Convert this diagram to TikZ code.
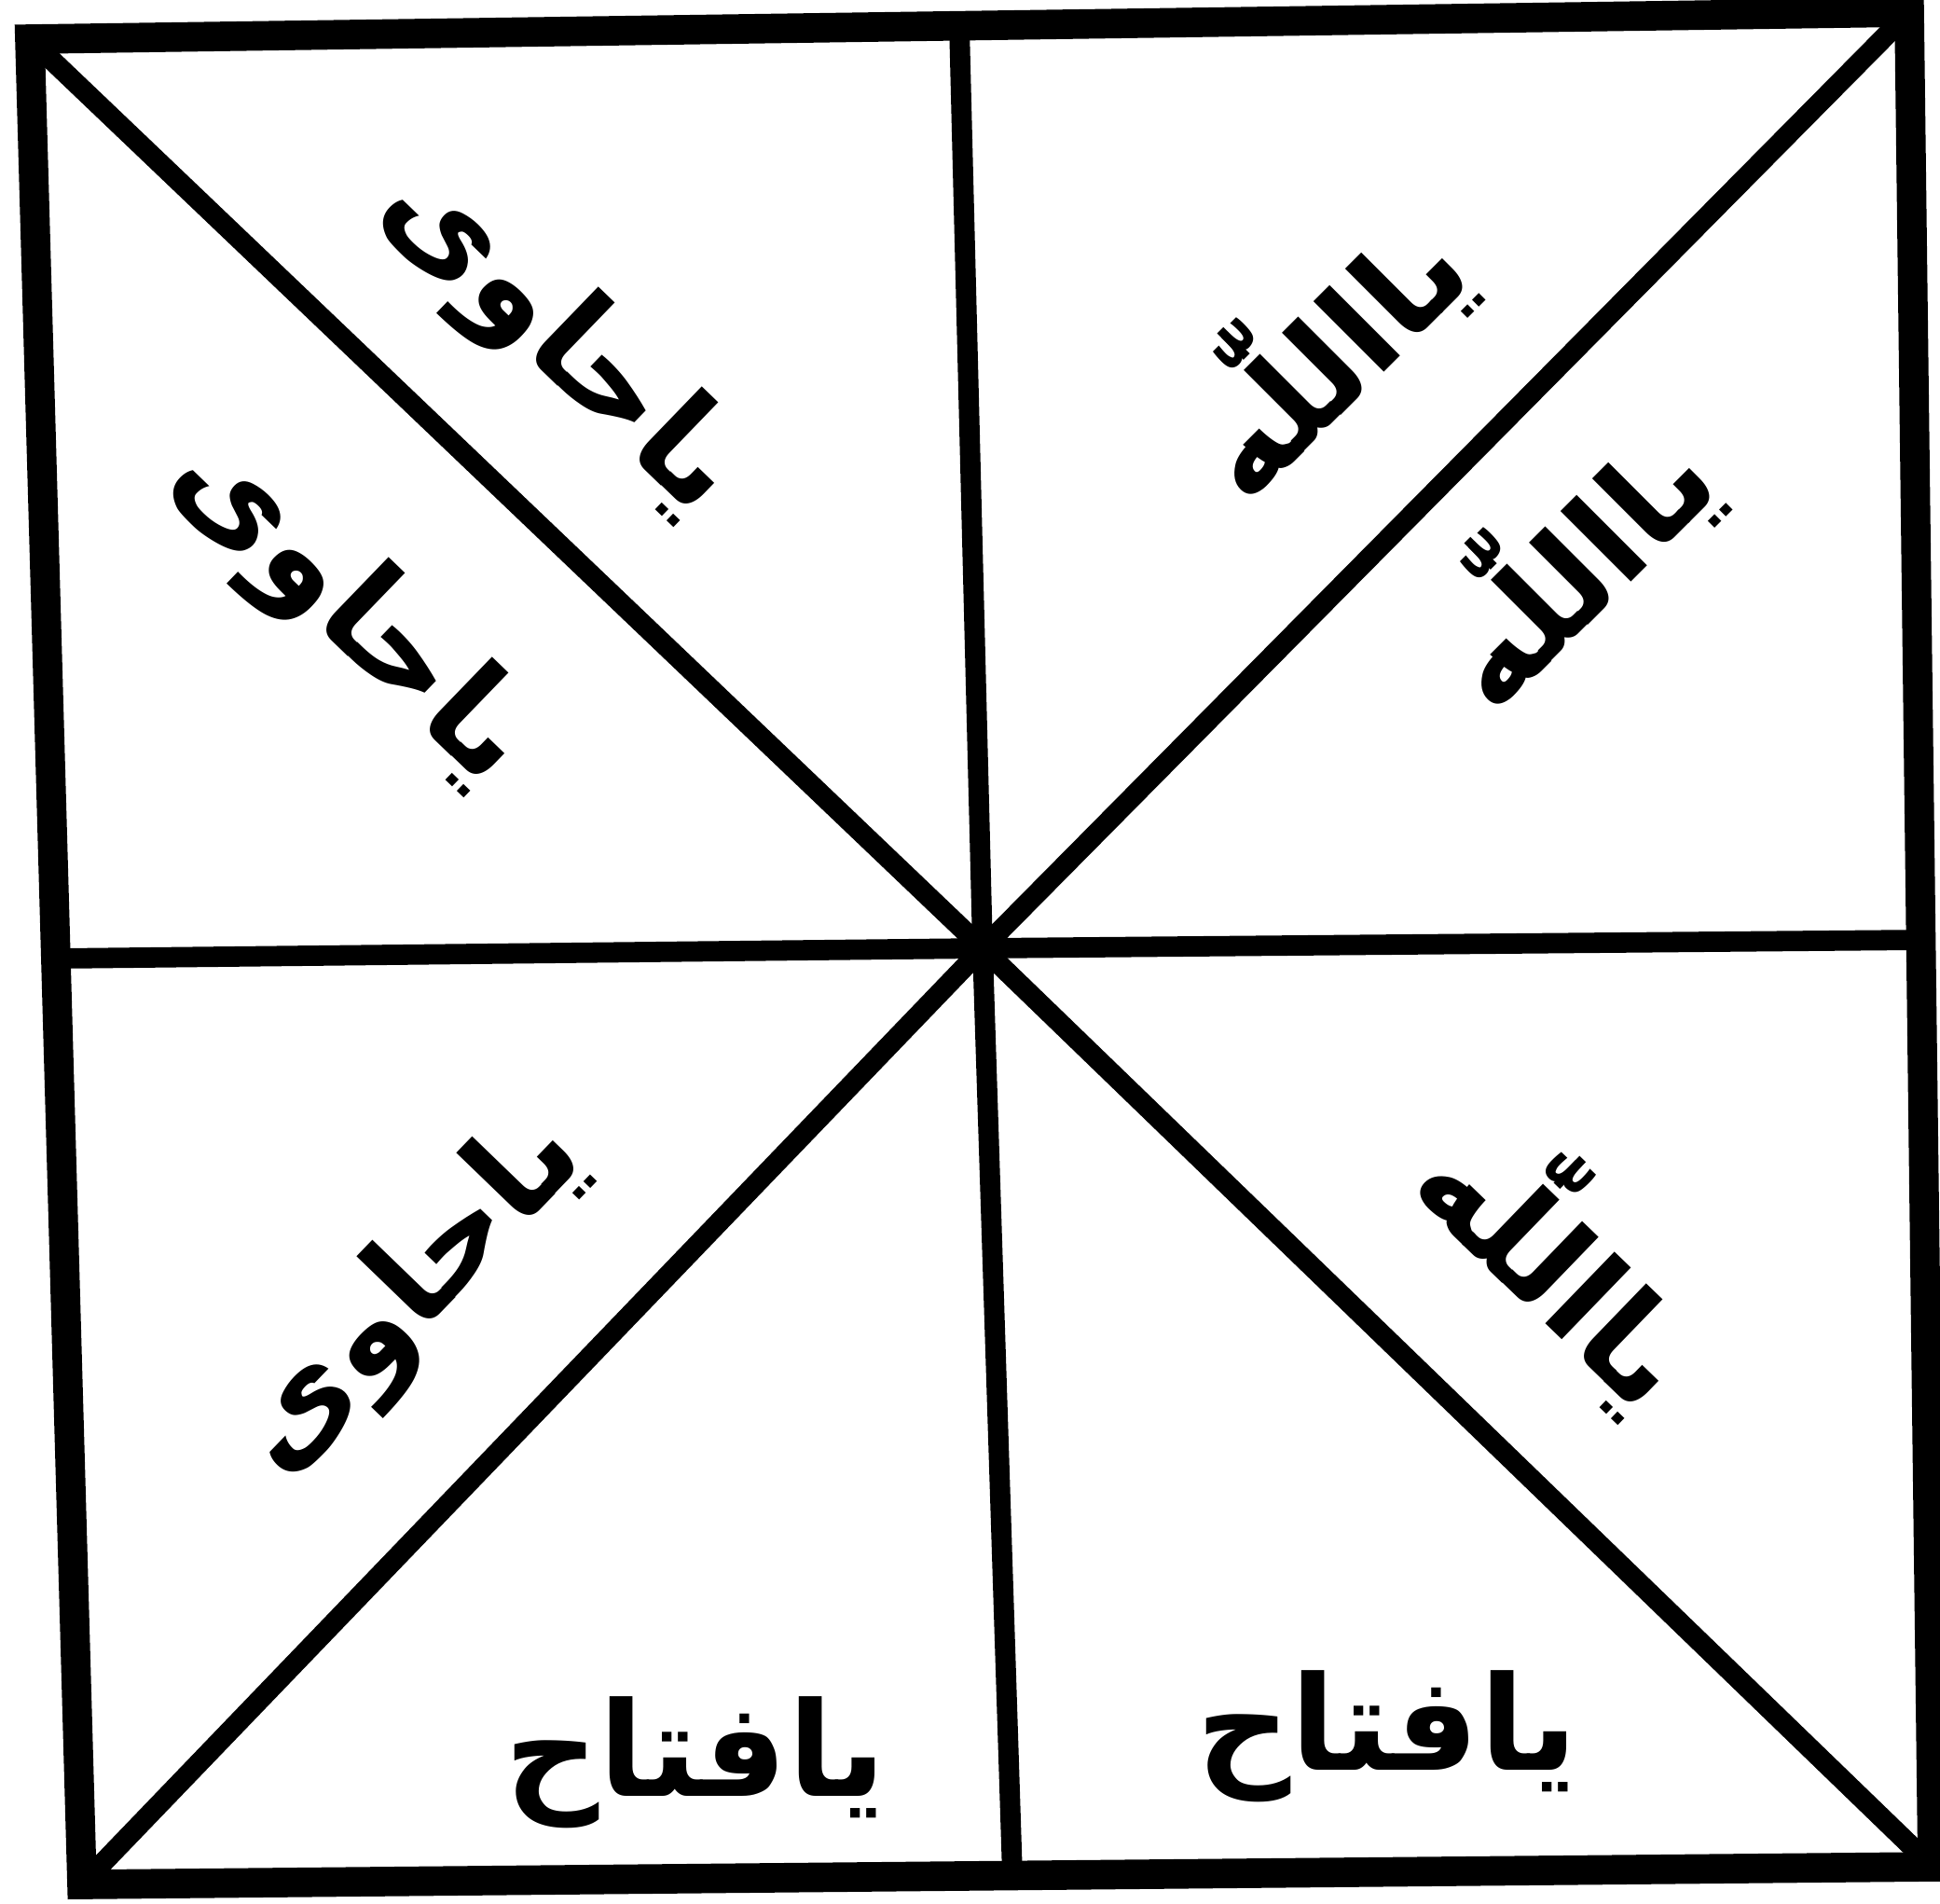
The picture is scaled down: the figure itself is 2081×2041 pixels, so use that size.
\documentclass[tikz,border=0pt]{standalone}
\usepackage{fontspec}
\TeXXeTstate=1
\newfontfamily\arabicfont[Script=Arabic]{DejaVu Sans}
\newcommand{\rtltext}[1]{\beginR #1\endR}
\tikzset{
  frame line/.style={line width=9pt, line join=miter},
  split line/.style={line width=6.2pt},
  duaa/.style={font=\arabicfont\bfseries\fontsize{40}{46}\selectfont, inner sep=0pt},
}

\begin{document}
\begin{tikzpicture}[x=0.01cm, y=-0.01cm]
  \useasboundingbox (0,0) rectangle (2081,2041);
  % corners, centre and side midpoints
  \coordinate (tl) at (32,42);
  \coordinate (tr) at (2048,13);
  \coordinate (br) at (2073,2002);
  \coordinate (bl) at (88,2021);
  \coordinate (c) at (1054,1017);
  \coordinate (tm) at (1029,27);
  \coordinate (bm) at (1086,2012);
  \coordinate (lm) at (60,1028);
  \coordinate (rm) at (2060,1008);
  \draw[split line] (tl) -- (c) -- (br);
  \draw[split line] (tr) -- (c) -- (bl);
  \draw[split line] (tm) -- (c) -- (bm);
  \draw[split line] (lm) -- (c) -- (rm);
  \draw[frame line] (tl) -- (tr) -- (br) -- (bl) -- cycle;
  % names in the triangles
  \node[duaa, rotate=-44] (hawiA) at (600,365) {\rtltext{یاحاوی}};
  \node[duaa, rotate=-44] (hawiB) at (375,655) {\rtltext{یاحاوی}};
  \node[duaa, rotate=45] (allahA) at (1415,375) {\rtltext{یااللّٰه}};
  \node[duaa, rotate=45] (allahB) at (1680,600) {\rtltext{یااللّٰه}};
  \node[duaa, rotate=-44] (allahC) at (1680,1350) {\rtltext{یااللّٰه}};
  \node[duaa, rotate=46] (hawiC) at (440,1390) {\rtltext{یاحاوی}};
  \node[duaa] (fattahA) at (746,1890) {\rtltext{یافتاح}};
  \node[duaa] (fattahB) at (1488,1862) {\rtltext{یافتاح}};
\end{tikzpicture}
\end{document}
